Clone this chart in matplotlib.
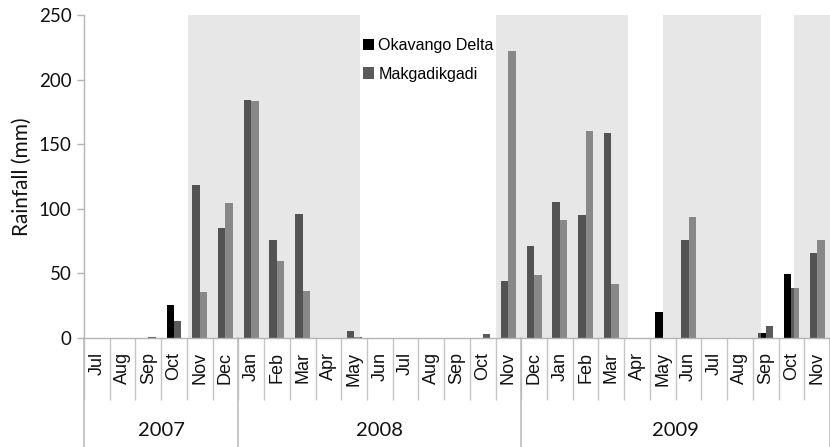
import matplotlib
matplotlib.use("Agg")
import matplotlib.pyplot as plt
import matplotlib.transforms as mtransforms
import numpy as np

# ---------------- data ----------------
months = ["Jul", "Aug", "Sep", "Oct", "Nov", "Dec",
          "Jan", "Feb", "Mar", "Apr", "May", "Jun", "Jul", "Aug", "Sep", "Oct", "Nov",
          "Dec", "Jan", "Feb", "Mar", "Apr", "May", "Jun", "Jul", "Aug", "Sep", "Oct", "Nov"]
okavango = [0, 0, 0, 25.8, 118.6, 85, 184.3, 76, 96.1, 0, 5.6, 0, 0, 0, 0, 0, 43.8,
            71.4, 105.2, 95.4, 159, 0, 20.3, 76, 0, 0, 3.8, 49.7, 65.7]
makgadikgadi = [0, 0, 0.8, 12.8, 35.3, 104.4, 183.5, 59.3, 36, 0, 0.5, 0, 0, 0, 0, 3, 222.4,
                49, 91, 160.3, 41.8, 0, 0, 93.3, 0, 0, 9, 39, 76]
years = ["2007", "2008", "2009"]
year_lengths = [6, 11, 12]          # number of month categories under each year label
# shaded (wet-season) spans, in category units
shade_spans = [(4.04, 10.72), (16.0, 21.15), (22.5, 26.33), (27.6, 30.0)]
yticks = [0, 50, 100, 150, 200, 250]

# ---------------- figure ----------------
W, H = 830, 447
fig = plt.figure(figsize=(W / 100, H / 100), dpi=100)
ax_left, ax_top, ax_bottom = 84, 15, 338
ax = fig.add_axes([ax_left / W, 1 - ax_bottom / H, 1 - ax_left / W, (ax_bottom - ax_top) / H])

x = np.arange(len(months))
bw = 0.29
ax.bar(x - bw / 2, okavango, width=bw, color="#000000", zorder=2, label="Okavango Delta")
ax.bar(x + bw / 2, makgadikgadi, width=bw, color="#5a5a5a", zorder=2, label="Makgadikgadi")

for a, b in shade_spans:
    ax.axvspan(a - 0.5, b - 0.5, ymin=0, ymax=1.003, color="#c8c8c8", alpha=0.42,
               lw=0, zorder=3)

cat_px = 26.0
ax.set_xlim(-0.5, -0.5 + (W - ax_left) / cat_px)
ax.set_ylim(0, 250)

axis_col = "#b4b4b4"
for s in ["top", "right"]:
    ax.spines[s].set_visible(False)
for s in ["left", "bottom"]:
    ax.spines[s].set_color(axis_col)
    ax.spines[s].set_linewidth(1.0)
    ax.spines[s].set_zorder(4)

ax.set_yticks(yticks)
ax.set_yticklabels([str(v) for v in yticks], fontfamily="Lato", fontsize=13.5, color="#111111")
ax.tick_params(axis="y", length=5, width=1, color=axis_col, pad=4)

ax.set_xticks(x)
ax.set_xticklabels(months, rotation=90, fontfamily="Liberation Sans", fontsize=13, color="#111111")
ax.tick_params(axis="x", which="major", length=0, pad=10)
ax.set_xticks(np.arange(len(months) + 1) - 0.5, minor=True)
ax.tick_params(axis="x", which="minor", length=62 * 0.72, width=1, color="#c4c4c4", direction="out")

ax.set_ylabel("Rainfall (mm)", fontfamily="Lato", fontsize=15, color="#111111", labelpad=5)

# year separators and labels
trans = mtransforms.blended_transform_factory(ax.transData, ax.transAxes)
ybot = -(H - ax_bottom) / (ax_bottom - ax_top)
bounds = np.concatenate([[0], np.cumsum(year_lengths)]) - 0.5
for bnd in bounds:
    ax.plot([bnd, bnd], [ybot, 0], transform=trans, color="#bdbdbd", lw=1.2, clip_on=False, zorder=4)
for i, yl in enumerate(years):
    cx = (bounds[i] + bounds[i + 1]) / 2
    ax.text(cx, -(431 - ax_bottom) / (ax_bottom - ax_top), yl, transform=trans, ha="center",
            va="center", fontfamily="Lato", fontsize=14.5, color="#111111")

leg = ax.legend(loc="upper left", bbox_to_anchor=((363 - ax_left) / (W - ax_left), 1 - (38 - ax_top) / (ax_bottom - ax_top)),
                frameon=False, handlelength=0.7, handleheight=0.7, handletextpad=0.25,
                labelspacing=0.85, borderpad=0, borderaxespad=0,
                prop={"family": "Liberation Sans", "size": 11.6})
leg.set_zorder(6)

fig.savefig("out.png", dpi=100, facecolor="white")
